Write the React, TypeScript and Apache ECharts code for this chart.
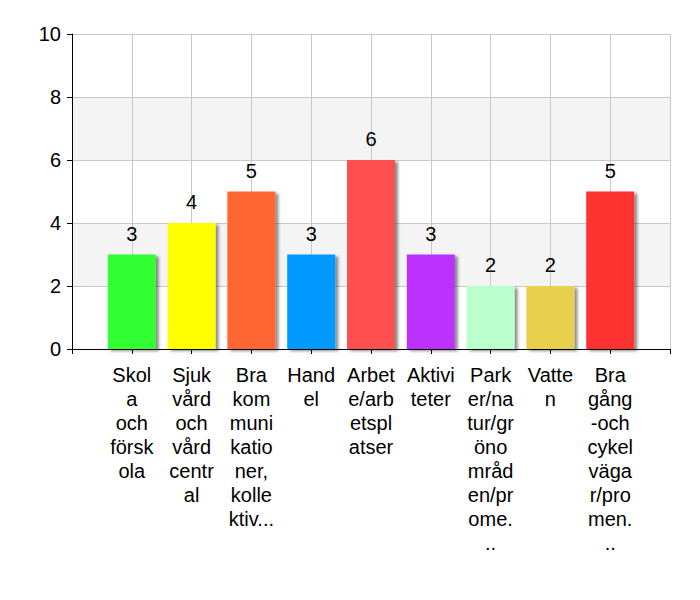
import React, { useEffect, useRef } from "react";
import * as echarts from "echarts";

const categories = [
  "",
  "Skol\na\noch\nförsk\nola",
  "Sjuk\nvård\noch\nvård\ncentr\nal",
  "Bra\nkom\nmuni\nkatio\nner,\nkolle\nktiv...",
  "Hand\nel",
  "Arbet\ne/arb\netspl\natser",
  "Aktivi\nteter",
  "Park\ner/na\ntur/gr\nöno\nmråd\nen/pr\nome.\n..",
  "Vatte\nn",
  "Bra\ngång\n-och\ncykel\nväga\nr/pro\nmen.\n..",
  "",
];
const values = [null, 3, 4, 5, 3, 6, 3, 2, 2, 5, null];
const colors = [
  "#ffffff",
  "#33ff33",
  "#ffff00",
  "#ff6633",
  "#0099ff",
  "#ff5050",
  "#bb33ff",
  "#bbffcc",
  "#e8d050",
  "#ff3333",
  "#ffffff",
];
const yTicks = { min: 0, max: 10, interval: 2 };

export default function App() {
  const ref = useRef<HTMLDivElement>(null);
  useEffect(() => {
    if (!ref.current) return;
    const chart = echarts.init(ref.current, null, { renderer: "svg" });
    const font = "Liberation Sans, Arial, sans-serif";
    chart.setOption({
      animation: false,
      textStyle: { fontFamily: font },
      grid: { left: 64, right: 22, top: 26, bottom: 243, containLabel: false },
      xAxis: {
        type: "category",
        data: categories,
        boundaryGap: false,
        axisLine: { show: true, lineStyle: { color: "#000", width: 1 } },
        axisTick: { show: true, interval: 0, length: 5, lineStyle: { color: "#000" } },
        splitLine: { show: true, interval: 0, lineStyle: { color: "#c8c8c8", width: 1 } },
        axisLabel: {
          interval: 0,
          color: "#000",
          fontSize: 20,
          lineHeight: 24,
          margin: 14,
          fontFamily: font,
          align: "center",
        },
      },
      yAxis: {
        type: "value",
        min: yTicks.min,
        max: yTicks.max,
        interval: yTicks.interval,
        axisLine: { show: true, lineStyle: { color: "#000", width: 1 } },
        axisTick: { show: true, length: 5, lineStyle: { color: "#000" } },
        splitLine: { show: true, lineStyle: { color: "#c8c8c8", width: 1 } },
        splitArea: { show: true, areaStyle: { color: ["#ffffff", "#f4f4f4"] } },
        axisLabel: { color: "#000", fontSize: 20, margin: 11, fontFamily: font },
      },
      series: [
        {
          type: "bar",
          barWidth: 48,
          data: values.map((v, i) => ({
            value: v,
            itemStyle: {
              color: colors[i],
              shadowColor: "rgba(0,0,0,0.45)",
              shadowBlur: 3,
              shadowOffsetX: 3,
              shadowOffsetY: 2,
            },
          })),
          label: {
            show: true,
            position: "top",
            distance: 11,
            color: "#000",
            fontSize: 20,
            fontFamily: font,
          },
        },
      ],
    });
    return () => chart.dispose();
  }, []);
  return <div ref={ref} style={{ width: 684, height: 584 }} />;
}
